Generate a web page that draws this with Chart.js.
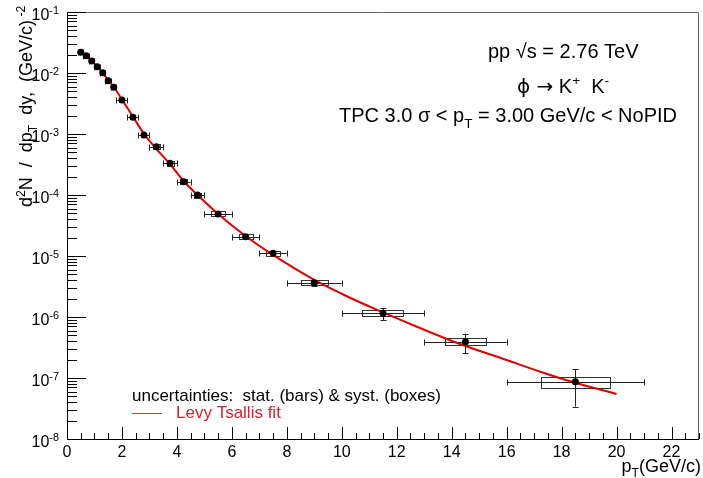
<!DOCTYPE html>
<html><head><meta charset="utf-8">
<script src="https://cdn.jsdelivr.net/npm/chart.js@4"></script>
<style>html,body{margin:0;padding:0;background:#fff;}canvas{display:block;}</style>
</head><body>
<canvas id="c" width="703" height="478"></canvas>
<script>
// ---- data ----
const ptLow    = [0.4,0.6,0.8,1.0,1.2,1.4,1.6,1.8,2.2,2.6,3.0,3.5,4.0,4.5,5,6,7,8,10,13,16];
const ptHigh   = [0.6,0.8,1.0,1.2,1.4,1.6,1.8,2.2,2.6,3.0,3.5,4.0,4.5,5.0,6,7,8,10,13,16,21];
const ptCenter = [0.5,0.7,0.9,1.1,1.3,1.5,1.7,2.0,2.4,2.8,3.25,3.75,4.25,4.75,5.5,6.5,7.5,9,11.5,14.5,18.5];
const yields   = [0.0218,0.0192,0.0157,0.0127,0.0101,0.00748,0.00583,0.00361,0.00188,0.000964,0.000619,0.000331,0.000165,0.000100,4.89e-5,2.07e-5,1.11e-5,3.65e-6,1.15e-6,3.94e-7,8.7e-8];
const statErr  = [6.5e-4,5.8e-4,4.7e-4,3.8e-4,3.0e-4,2.2e-4,2.0e-4,1.1e-4,6.6e-5,3.9e-5,3.1e-5,1.7e-5,9.9e-6,6.0e-6,3.4e-6,1.7e-6,1.0e-6,4.4e-7,2.6e-7,1.4e-7,5.3e-8];
const systErr  = [1.7e-3,1.5e-3,1.3e-3,1.0e-3,8.1e-4,6.0e-4,4.7e-4,2.9e-4,1.5e-4,7.7e-5,5.6e-5,3.0e-5,1.5e-5,9.0e-6,4.9e-6,2.1e-6,1.1e-6,3.5e-7,1.3e-7,5.1e-8,1.8e-8];
const fitPt    = [0.4,0.5,0.7,0.9,1.1,1.3,1.5,1.7,2.0,2.4,2.8,3.25,3.75,4.25,4.75,5.5,6.5,7.5,9.0,10.2,11.5,12.8,14.2,16.0,17.2,18.4,20.0];
const fitVal   = [0.0205,0.0211,0.0190,0.0158,0.0127,0.0100,0.0077,0.0059,0.0037,0.00192,0.00101,0.00057,0.00032,0.000168,0.000100,4.9e-5,2.13e-5,1.04e-5,4.05e-6,2.17e-6,1.19e-6,6.73e-7,3.75e-7,1.97e-7,1.28e-7,8.59e-8,5.47e-8];
const xTickValues = [0,2,4,6,8,10,12,14,16,18,20,22];
const xTickLabels = ['0','2','4','6','8','10','12','14','16','18','20','22'];
const yTickDecades = [1e-8,1e-7,1e-6,1e-5,1e-4,1e-3,1e-2,1e-1];
const yTickExponents = ['-8','-7','-6','-5','-4','-3','-2','-1'];
const legendLines = ['uncertainties:  stat. (bars) & syst. (boxes)', 'Levy Tsallis fit'];

const FONT = '"Liberation Sans", Arial, Helvetica, "DejaVu Sans", sans-serif';

function fontFor(p, fs) { return fs + 'px ' + (p.f ? p.f : FONT); }
function drawParts(ctx, parts, x, y, size) {
  let cx = x;
  for (const p of parts) {
    let fs = size, dy = 0;
    if (p.s === 'sup') { fs = size * 0.68; dy = -size * 0.4; }
    else if (p.s === 'sub') { fs = size * 0.68; dy = size * 0.3; }
    ctx.font = fontFor(p, fs);
    ctx.fillText(p.t, cx, y + dy);
    cx += ctx.measureText(p.t).width;
  }
  return cx - x;
}
function partsWidth(ctx, parts, size) {
  let w = 0;
  for (const p of parts) {
    const fs = p.s ? size * 0.68 : size;
    ctx.font = fontFor(p, fs);
    w += ctx.measureText(p.t).width;
  }
  return w;
}

const rootPlugin = {
  id: 'rootStyle',
  beforeDatasetsDraw(chart) {
    const ctx = chart.ctx, xs = chart.scales.x, ys = chart.scales.y, a = chart.chartArea;
    ctx.save();
    ctx.beginPath(); ctx.rect(a.left, a.top, a.right - a.left, a.bottom - a.top); ctx.clip();
    ctx.lineWidth = 1;
    for (let i = 0; i < ptCenter.length; i++) {
      const xc = xs.getPixelForValue(ptCenter[i]);
      const yc = ys.getPixelForValue(yields[i]);
      const hw = (ptHigh[i] - ptLow[i]) / 4;
      const bx0 = xs.getPixelForValue(ptCenter[i] - hw), bx1 = xs.getPixelForValue(ptCenter[i] + hw);
      const by0 = ys.getPixelForValue(yields[i] + systErr[i]), by1 = ys.getPixelForValue(yields[i] - systErr[i]);
      ctx.strokeStyle = '#333';
      ctx.strokeRect(Math.round(bx0) + 0.5, Math.round(by0) + 0.5, Math.round(bx1 - bx0), Math.round(by1 - by0));
      ctx.strokeStyle = '#222';
      const ex0 = xs.getPixelForValue(ptLow[i]), ex1 = xs.getPixelForValue(ptHigh[i]);
      const ey0 = ys.getPixelForValue(yields[i] + statErr[i]), ey1 = ys.getPixelForValue(yields[i] - statErr[i]);
      const yy = Math.round(yc) + 0.5, xx = Math.round(xc) + 0.5;
      ctx.beginPath();
      ctx.moveTo(ex0, yy); ctx.lineTo(ex1, yy);
      ctx.moveTo(xx, ey0); ctx.lineTo(xx, ey1);
      ctx.moveTo(Math.round(ex0) + 0.5, yy - 3); ctx.lineTo(Math.round(ex0) + 0.5, yy + 3);
      ctx.moveTo(Math.round(ex1) + 0.5, yy - 3); ctx.lineTo(Math.round(ex1) + 0.5, yy + 3);
      if (ey1 - ey0 > 6) {
        ctx.moveTo(xx - 3, Math.round(ey0) + 0.5); ctx.lineTo(xx + 3, Math.round(ey0) + 0.5);
        ctx.moveTo(xx - 3, Math.round(ey1) + 0.5); ctx.lineTo(xx + 3, Math.round(ey1) + 0.5);
      }
      ctx.stroke();
    }
    ctx.restore();
  },
  afterDraw(chart) {
    const ctx = chart.ctx, xs = chart.scales.x, ys = chart.scales.y, a = chart.chartArea;
    ctx.save();
    ctx.lineWidth = 1;
    ctx.strokeStyle = '#666';
    ctx.beginPath();
    ctx.moveTo(a.left, a.top + 0.5); ctx.lineTo(a.right - 0.5, a.top + 0.5); ctx.lineTo(a.right - 0.5, a.bottom);
    ctx.stroke();
    ctx.strokeStyle = '#000';
    ctx.beginPath();
    ctx.moveTo(a.left + 0.5, a.top); ctx.lineTo(a.left + 0.5, a.bottom + 0.5); ctx.lineTo(a.right, a.bottom + 0.5);
    ctx.stroke();
    ctx.beginPath();
    for (let d = 0; d < yTickDecades.length; d++) {
      const dec = yTickDecades[d];
      const py = Math.round(ys.getPixelForValue(dec)) + 0.5;
      ctx.moveTo(a.left, py); ctx.lineTo(a.left + 19, py);
      if (d < yTickDecades.length - 1) {
        for (let m = 2; m <= 9; m++) {
          const pm = Math.round(ys.getPixelForValue(dec * m)) + 0.5;
          ctx.moveTo(a.left, pm); ctx.lineTo(a.left + 10, pm);
        }
      }
    }
    for (let v = 0; v <= 23; v += 0.5) {
      const px = Math.round(xs.getPixelForValue(v)) + 0.5;
      const major = Math.abs(v / 2 - Math.round(v / 2)) < 1e-6;
      ctx.moveTo(px, a.bottom); ctx.lineTo(px, a.bottom - (major ? 12 : 6));
    }
    ctx.stroke();
    ctx.fillStyle = '#000';
    ctx.textBaseline = 'alphabetic';
    ctx.textAlign = 'left';
    for (let d = 0; d < yTickDecades.length; d++) {
      const py = ys.getPixelForValue(yTickDecades[d]);
      const parts = [{t: '10'}, {t: yTickExponents[d], s: 'sup'}];
      const w = partsWidth(ctx, parts, 16);
      drawParts(ctx, parts, 59 - w, py + 8, 16);
    }
    for (let i = 0; i < xTickValues.length; i++) {
      const px = xs.getPixelForValue(xTickValues[i]);
      ctx.font = '16px ' + FONT;
      const w = ctx.measureText(xTickLabels[i]).width;
      ctx.fillText(xTickLabels[i], px - w / 2, 457);
    }
    const xt = [{t: 'p'}, {t: 'T', s: 'sub'}, {t: '(GeV/c)'}];
    drawParts(ctx, xt, 701 - partsWidth(ctx, xt, 18), 472, 18);
    ctx.save();
    ctx.translate(32, 207);
    ctx.rotate(-Math.PI / 2);
    drawParts(ctx, [{t: 'd'}, {t: '2', s: 'sup'}, {t: 'N  /  dp'}, {t: 'T', s: 'sub'}, {t: '  dy,  (GeV/c)'}, {t: ' -2', s: 'sup'}], 0, 0, 18);
    ctx.restore();
    drawParts(ctx, [{t: 'pp \u221As = 2.76 TeV'}], 488, 58, 20);
    drawParts(ctx, [{t: '\u03D5 ', f: '"DejaVu Sans", sans-serif'}, {t: '\u2192', f: '"DejaVu Sans", sans-serif'}, {t: ' K'}, {t: '+', s: 'sup'}, {t: '  K'}, {t: '-', s: 'sup'}], 517, 93, 20);
    drawParts(ctx, [{t: 'TPC 3.0 \u03C3 < p'}, {t: 'T', s: 'sub'}, {t: ' = 3.00 GeV/c < NoPID'}], 339, 122, 20);
    ctx.font = '17px ' + FONT;
    ctx.fillStyle = '#000';
    ctx.fillText(legendLines[0], 132, 401);
    ctx.fillStyle = '#d8202a';
    ctx.fillText(legendLines[1], 176, 418);
    ctx.strokeStyle = '#e03030';
    ctx.lineWidth = 1;
    ctx.beginPath(); ctx.moveTo(132, 413.5); ctx.lineTo(162, 413.5); ctx.stroke();
    ctx.restore();
  }
};

new Chart(document.getElementById('c'), {
  type: 'scatter',
  data: {
    datasets: [
      {
        label: 'data',
        data: ptCenter.map((x, i) => ({x: x, y: yields[i]})),
        pointRadius: 3.5,
        pointBackgroundColor: '#000',
        pointBorderWidth: 0,
        showLine: false
      },
      {
        label: 'Levy Tsallis fit',
        data: fitPt.map((x, i) => ({x: x, y: fitVal[i]})),
        showLine: true,
        borderColor: '#e00000',
        borderWidth: 2,
        pointRadius: 0,
        cubicInterpolationMode: 'monotone',
        fill: false
      }
    ]
  },
  options: {
    responsive: false,
    animation: false,
    devicePixelRatio: 1,
    layout: {padding: {left: 67, top: 12, right: 1, bottom: 39}},
    plugins: {legend: {display: false}, tooltip: {enabled: false}},
    scales: {
      x: {type: 'linear', min: 0, max: 23, display: false},
      y: {type: 'logarithmic', min: 1e-8, max: 1e-1, display: false}
    }
  },
  plugins: [rootPlugin]
});
</script>
</body></html>
